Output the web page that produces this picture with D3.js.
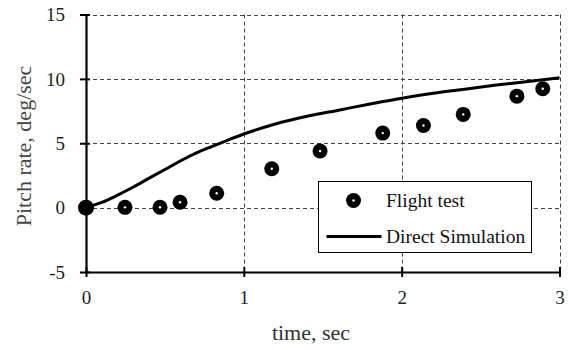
<!DOCTYPE html>
<html>
<head>
<meta charset="utf-8">
<script src="https://cdn.jsdelivr.net/npm/d3@7"></script>
<style>
  body { margin: 0; background: #fff; }
  svg { display: block; font-family: "Liberation Serif", "Times New Roman", serif; }
  svg text { font-family: "Liberation Serif", "Times New Roman", serif; }
</style>
</head>
<body>
<svg id="chart" width="569" height="350"></svg>
<script>
// flight test samples
const flightTime = [0, 0.247, 0.469, 0.596, 0.828, 1.177, 1.483, 1.88, 2.138, 2.39, 2.73, 2.894];
const flightRate = [0, 0.02, 0.03, 0.42, 1.12, 3.02, 4.4, 5.79, 6.38, 7.24, 8.66, 9.23];

// direct simulation curve
const simTime = [0, 0.1, 0.2, 0.3, 0.4, 0.5, 0.6, 0.7, 0.8, 0.9, 1.0, 1.2, 1.4, 1.6, 1.8, 2.0, 2.2, 2.4, 2.6, 2.8, 3.0];
const simRate = [0, 0.4, 0.97, 1.6, 2.29, 2.96, 3.64, 4.25, 4.76, 5.25, 5.72, 6.5, 7.1, 7.57, 8.05, 8.5, 8.88, 9.2, 9.52, 9.8, 10.08];

const xTicks = [0, 1, 2, 3];
const yTicks = [-5, 0, 5, 10, 15];

const svg = d3.select("#chart");
const margin = { left: 86, right: 10, top: 14.5, bottom: 78 };
const width = 559.5 - margin.left;
const height = 272 - margin.top;

const x = d3.scaleLinear().domain([0, 3]).range([margin.left, margin.left + width]);
const y = d3.scaleLinear().domain([-5, 15]).range([margin.top + height, margin.top]);

// dashed grid
const grid = svg.append("g").attr("class", "grid")
    .attr("stroke", "#444")
    .attr("stroke-width", 1)
    .attr("stroke-dasharray", "4,3");
grid.selectAll("line.h")
    .data(yTicks.filter(d => d > -5))
    .join("line")
    .attr("class", "h")
    .attr("x1", x(0)).attr("x2", x(3))
    .attr("y1", d => Math.round(y(d)) + 0.5).attr("y2", d => Math.round(y(d)) + 0.5);
grid.selectAll("line.v")
    .data(xTicks.filter(d => d > 0))
    .join("line")
    .attr("class", "v")
    .attr("x1", d => Math.round(x(d)) + 0.5).attr("x2", d => Math.round(x(d)) + 0.5)
    .attr("y1", y(15)).attr("y2", y(-5));

// axes
const fmt = d => String(d);
const xAxis = svg.append("g")
    .attr("transform", `translate(0,${y(-5)})`)
    .call(d3.axisBottom(x).tickValues(xTicks).tickSizeInner(5).tickSizeOuter(0).tickFormat(fmt));
const yAxis = svg.append("g")
    .attr("transform", `translate(${x(0)},0)`)
    .call(d3.axisLeft(y).tickValues(yTicks).tickSizeInner(5).tickSizeOuter(0).tickFormat(fmt));

[xAxis, yAxis].forEach(ax => {
    ax.attr("font-family", null).attr("font-size", null);
    ax.select(".domain").attr("stroke", "#000").attr("stroke-width", 2.2);
    ax.selectAll(".tick line").attr("stroke", "#000").attr("stroke-width", 2);
    ax.selectAll(".tick text")
        .attr("fill", "#222")
        .attr("font-size", 19);
});
// crossing ticks
xAxis.selectAll(".tick line").attr("y1", -5).attr("y2", 5);
xAxis.selectAll(".tick text").attr("y", 19);
yAxis.selectAll(".tick line").attr("x1", -6).attr("x2", 4);
yAxis.selectAll(".tick text").attr("x", -21).attr("dy", "0.33em");

// simulation line
const simData = simTime.map((t, i) => [t, simRate[i]]);
svg.append("path")
    .datum(simData)
    .attr("fill", "none")
    .attr("stroke", "#000")
    .attr("stroke-width", 3)
    .attr("d", d3.line().x(d => x(d[0])).y(d => y(d[1])).curve(d3.curveMonotoneX));

// flight test markers
const flightData = flightTime.map((t, i) => [t, flightRate[i]]);
const marks = svg.append("g").selectAll("g")
    .data(flightData)
    .join("g")
    .attr("transform", d => `translate(${x(d[0])},${y(d[1])})`);
marks.append("circle").attr("r", (d, i) => i === 0 ? 8 : 7.5).attr("fill", "#000");
marks.filter((d, i) => i > 0).append("circle").attr("r", 1.2).attr("fill", "#fff");

// legend
const legend = svg.append("g").attr("transform", "translate(318.5,181.5)");
legend.append("rect")
    .attr("width", 213).attr("height", 71)
    .attr("fill", "#fff").attr("stroke", "#000").attr("stroke-width", 1);
legend.append("circle").attr("cx", 35).attr("cy", 19).attr("r", 7.5).attr("fill", "#000");
legend.append("circle").attr("cx", 35).attr("cy", 19).attr("r", 1.2).attr("fill", "#fff");
legend.append("line")
    .attr("x1", 8).attr("x2", 63).attr("y1", 55).attr("y2", 55)
    .attr("stroke", "#000").attr("stroke-width", 3);
legend.append("text").attr("x", 67.5).attr("y", 25)
    .attr("font-size", 19.5).attr("fill", "#111").text("Flight test");
legend.append("text").attr("x", 67.5).attr("y", 61)
    .attr("font-size", 19.5).attr("fill", "#111").text("Direct Simulation");

// axis titles
svg.append("text")
    .attr("x", 311).attr("y", 340)
    .attr("text-anchor", "middle")
    .attr("font-size", 22).attr("fill", "#333")
    .text("time, sec");
svg.append("text")
    .attr("transform", "translate(31,146) rotate(-90)")
    .attr("text-anchor", "middle")
    .attr("font-size", 22).attr("fill", "#444")
    .text("Pitch rate, deg/sec");
</script>
</body>
</html>
